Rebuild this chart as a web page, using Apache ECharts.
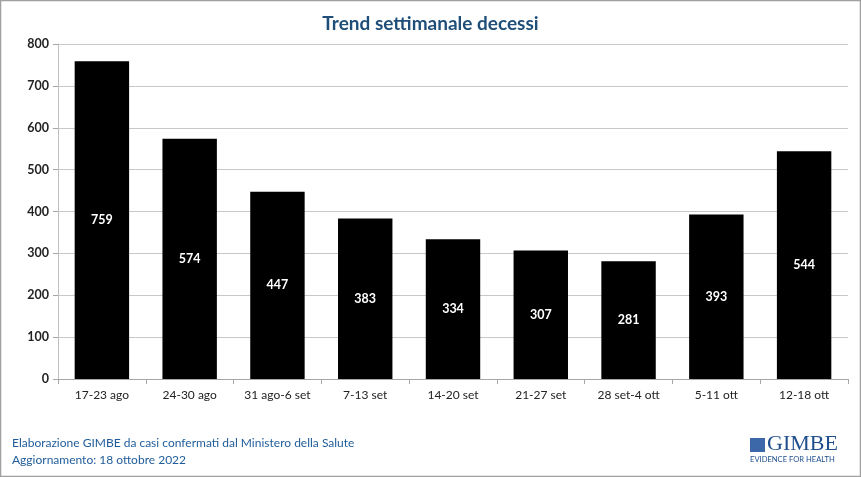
<!DOCTYPE html>
<html><head><meta charset="utf-8">
<script src="https://cdn.jsdelivr.net/npm/echarts@6/dist/echarts.min.js"></script>
<style>html,body{margin:0;padding:0;background:#fff}#c{width:861px;height:477px}</style>
</head><body><div id="c"></div>
<script>
const categories = ['17-23 ago','24-30 ago','31 ago-6 set','7-13 set','14-20 set','21-27 set','28 set-4 ott','5-11 ott','12-18 ott'];
const deaths = [759,574,447,383,334,307,281,393,544];
const yTicks = [0,100,200,300,400,500,600,700,800];
const FONT = 'Lato, "Open Sans", sans-serif';
const chart = echarts.init(document.getElementById('c'), null, {renderer:'canvas'});
chart.setOption({
  animation:false,
  backgroundColor:'#fff',
  title:{text:'Trend settimanale decessi',left:'center',top:9,
    textStyle:{fontFamily:FONT,fontSize:19,fontWeight:'bold',color:'#1F4E79'}},
  grid:{left:58,right:13,top:44,bottom:98},
  xAxis:{type:'category',data:categories,
    axisLine:{lineStyle:{color:'#A6A6A6'}},
    axisTick:{show:true,length:5,lineStyle:{color:'#A6A6A6'}},
    axisLabel:{interval:0,fontFamily:FONT,fontSize:12,color:'#222',margin:10}},
  yAxis:{type:'value',min:yTicks[0],max:yTicks[yTicks.length-1],interval:100,
    axisLine:{show:true,lineStyle:{color:'#BFBFBF'}},
    axisTick:{show:true,length:5,lineStyle:{color:'#A6A6A6'}},
    splitLine:{lineStyle:{color:'#C8C8C8'}},
    axisLabel:{fontFamily:FONT,fontSize:12.5,fontWeight:'bold',color:'#222',margin:9}},
  series:[{type:'bar',data:deaths,barWidth:'62%',itemStyle:{color:'#000'},
    label:{show:true,position:'inside',color:'#fff',fontFamily:FONT,fontSize:12.5,fontWeight:'bold'}}],
  graphic:[
    {type:'rect',shape:{x:0.5,y:0.5,width:860,height:476},style:{fill:'none',stroke:'#A0A0A0',lineWidth:1.5},silent:true},
    {type:'text',left:12,top:437,style:{text:'Elaborazione GIMBE da casi confermati dal Ministero della Salute',fontFamily:FONT,fontSize:12,fill:'#1F5C99'}},
    {type:'text',left:12,top:454,style:{text:'Aggiornamento: 18 ottobre 2022',fontFamily:FONT,fontSize:12,fill:'#1F5C99'}},
    {type:'text',left:767,top:433,style:{text:'GIMBE',fontFamily:'"Liberation Serif", serif',fontSize:22,fill:'#1F4E8C'}},
    {type:'text',left:750,top:456,style:{text:'EVIDENCE FOR HEALTH',fontFamily:FONT,fontSize:7.6,fill:'#1F4E8C'}},
    {type:'rect',shape:{x:750,y:438,width:15,height:14},style:{fill:'#3C67A8'}}
  ]
});
</script></body></html>
